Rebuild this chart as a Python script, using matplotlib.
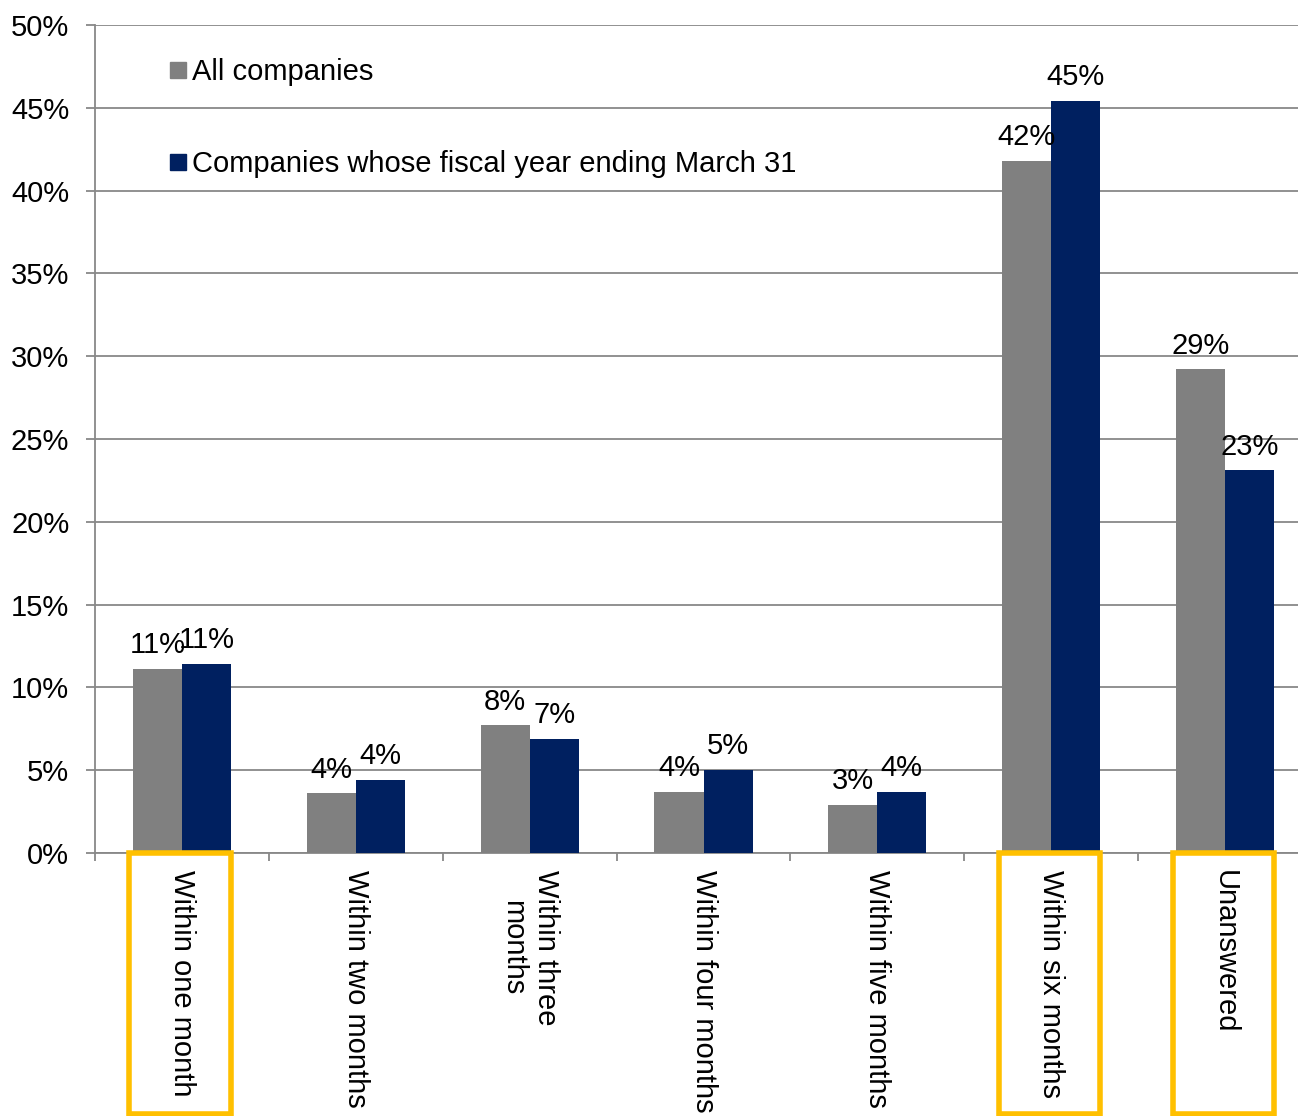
import matplotlib
matplotlib.use("Agg")
import matplotlib.pyplot as plt
import matplotlib.transforms as mtransforms
from matplotlib.patches import Rectangle
from matplotlib.lines import Line2D
import numpy as np

plt.rcParams['font.family'] = ['Liberation Sans', 'DejaVu Sans']

categories = ["Within one month", "Within two months", "Within three\nmonths",
              "Within four months", "Within five months", "Within six months", "Unanswered"]
all_companies = [11.1, 3.6, 7.7, 3.7, 2.9, 41.8, 29.2]
march_fy = [11.4, 4.4, 6.9, 5.0, 3.7, 45.4, 23.1]
highlighted = [0, 5, 6]

gray = "#808080"
navy = "#002060"
grid_c = "#888888"
fs = 21

fig = plt.figure(figsize=(12.98, 11.16), dpi=100)
# plot area runs a little past the right edge of the image
ax = fig.add_axes([95 / 1298, 1 - 853 / 1116, 1217 / 1298, (853 - 25) / 1116])

x = np.arange(len(categories))
w = 0.282
b1 = ax.bar(x - w / 2, all_companies, w, color=gray, label="All companies", zorder=3)
b2 = ax.bar(x + w / 2, march_fy, w, color=navy,
            label="Companies whose fiscal year ending March 31", zorder=3)

for bars, vals in ((b1, all_companies), (b2, march_fy)):
    for r, v in zip(bars, vals):
        ax.annotate(f"{round(v)}%", (r.get_x() + r.get_width() / 2, v),
                    xytext=(0, 7), textcoords="offset points",
                    ha="center", va="bottom", fontsize=fs, zorder=4)

ax.set_xlim(-0.5, 6.5)
ax.set_ylim(0, 50)
ax.set_yticks(np.arange(0, 51, 5))
ax.set_yticklabels([f"{v}%" for v in range(0, 51, 5)], fontsize=fs)
ax.yaxis.grid(True, color=grid_c, linewidth=1.3, zorder=0)
ax.tick_params(axis="y", length=6.5, width=1.3, color=grid_c, pad=12)

ax.set_xticks(x)
ax.set_xticklabels(categories, rotation=270, fontsize=fs, va="top", ha="center")
ax.set_xticks(np.arange(-0.5, 7, 1), minor=True)
ax.tick_params(axis="x", which="major", length=0, pad=12)
ax.tick_params(axis="x", which="minor", length=6, width=1.3, color=grid_c)

for s in ("top", "right"):
    ax.spines[s].set_visible(False)
for s in ("left", "bottom"):
    ax.spines[s].set_color(grid_c)
    ax.spines[s].set_linewidth(1.3)

# yellow boxes around highlighted category labels
trans = mtransforms.blended_transform_factory(ax.transData, ax.transAxes)
for i in highlighted:
    ax.add_patch(Rectangle((i - 0.302, -0.315), 0.302 + w, 0.315,
                           transform=trans, fill=False, edgecolor="#FFC000",
                           linewidth=4, clip_on=False, zorder=5))

handles = [Line2D([], [], marker="s", linestyle="none", markersize=11,
                  markerfacecolor=c, markeredgecolor=c) for c in (gray, navy)]
ax.legend(handles, [b1.get_label(), b2.get_label()], loc="upper left",
          bbox_to_anchor=(0.062, 0.96), frameon=False, fontsize=fs,
          handlelength=0.55, handletextpad=0.2, labelspacing=2.2,
          borderpad=0, borderaxespad=0)

fig.savefig("out.png", dpi=100)
